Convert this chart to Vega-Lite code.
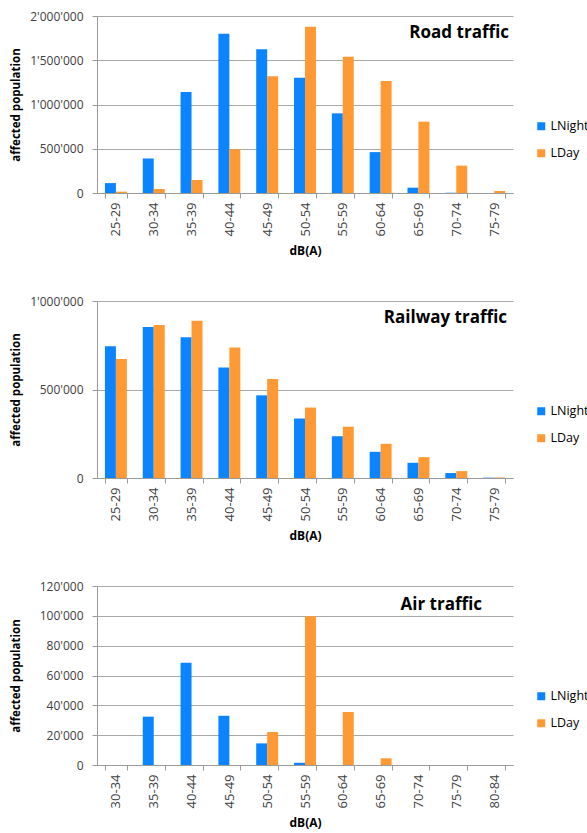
{
  "$schema": "https://vega.github.io/schema/vega-lite/v6.json",
  "padding": {"top": 10, "left": 10, "right": 0, "bottom": 6},
  "datasets": {
    "road": [
      {"band": "25-29", "series": "LNight", "value": 112000},
      {"band": "25-29", "series": "LDay", "value": 15000},
      {"band": "30-34", "series": "LNight", "value": 390000},
      {"band": "30-34", "series": "LDay", "value": 45000},
      {"band": "35-39", "series": "LNight", "value": 1142000},
      {"band": "35-39", "series": "LDay", "value": 147000},
      {"band": "40-44", "series": "LNight", "value": 1800000},
      {"band": "40-44", "series": "LDay", "value": 494000},
      {"band": "45-49", "series": "LNight", "value": 1624000},
      {"band": "45-49", "series": "LDay", "value": 1320000},
      {"band": "50-54", "series": "LNight", "value": 1303000},
      {"band": "50-54", "series": "LDay", "value": 1878000},
      {"band": "55-59", "series": "LNight", "value": 900000},
      {"band": "55-59", "series": "LDay", "value": 1540000},
      {"band": "60-64", "series": "LNight", "value": 462000},
      {"band": "60-64", "series": "LDay", "value": 1266000},
      {"band": "65-69", "series": "LNight", "value": 60000},
      {"band": "65-69", "series": "LDay", "value": 806000},
      {"band": "70-74", "series": "LNight", "value": 3000},
      {"band": "70-74", "series": "LDay", "value": 309000},
      {"band": "75-79", "series": "LNight", "value": 0},
      {"band": "75-79", "series": "LDay", "value": 23000}
    ],
    "rail": [
      {"band": "25-29", "series": "LNight", "value": 744000},
      {"band": "25-29", "series": "LDay", "value": 673000},
      {"band": "30-34", "series": "LNight", "value": 853000},
      {"band": "30-34", "series": "LDay", "value": 865000},
      {"band": "35-39", "series": "LNight", "value": 795000},
      {"band": "35-39", "series": "LDay", "value": 889000},
      {"band": "40-44", "series": "LNight", "value": 625000},
      {"band": "40-44", "series": "LDay", "value": 737000},
      {"band": "45-49", "series": "LNight", "value": 467000},
      {"band": "45-49", "series": "LDay", "value": 559000},
      {"band": "50-54", "series": "LNight", "value": 336000},
      {"band": "50-54", "series": "LDay", "value": 398000},
      {"band": "55-59", "series": "LNight", "value": 236000},
      {"band": "55-59", "series": "LDay", "value": 289000},
      {"band": "60-64", "series": "LNight", "value": 148000},
      {"band": "60-64", "series": "LDay", "value": 193000},
      {"band": "65-69", "series": "LNight", "value": 86000},
      {"band": "65-69", "series": "LDay", "value": 118000},
      {"band": "70-74", "series": "LNight", "value": 28000},
      {"band": "70-74", "series": "LDay", "value": 39000},
      {"band": "75-79", "series": "LNight", "value": 2000},
      {"band": "75-79", "series": "LDay", "value": 3000}
    ],
    "air": [
      {"band": "30-34", "series": "LNight", "value": 0},
      {"band": "30-34", "series": "LDay", "value": 0},
      {"band": "35-39", "series": "LNight", "value": 32400},
      {"band": "35-39", "series": "LDay", "value": 0},
      {"band": "40-44", "series": "LNight", "value": 68600},
      {"band": "40-44", "series": "LDay", "value": 0},
      {"band": "45-49", "series": "LNight", "value": 33000},
      {"band": "45-49", "series": "LDay", "value": 0},
      {"band": "50-54", "series": "LNight", "value": 14500},
      {"band": "50-54", "series": "LDay", "value": 22100},
      {"band": "55-59", "series": "LNight", "value": 1500},
      {"band": "55-59", "series": "LDay", "value": 99800},
      {"band": "60-64", "series": "LNight", "value": 0},
      {"band": "60-64", "series": "LDay", "value": 35500},
      {"band": "65-69", "series": "LNight", "value": 0},
      {"band": "65-69", "series": "LDay", "value": 4500},
      {"band": "70-74", "series": "LNight", "value": 0},
      {"band": "70-74", "series": "LDay", "value": 0},
      {"band": "75-79", "series": "LNight", "value": 0},
      {"band": "75-79", "series": "LDay", "value": 0},
      {"band": "80-84", "series": "LNight", "value": 0},
      {"band": "80-84", "series": "LDay", "value": 0}
    ]
  },
  "concat": [
    {
      "width": 416, "height": 177,
      "data": {"name": "road"},
      "title": {"text": "Road traffic", "anchor": "end", "frame": "group", "offset": -32, "dx": -4},
      "mark": {"type": "bar"},
      "encoding": {
        "x": {"field": "band", "type": "nominal", "sort": null, "title": "dB(A)", "scale": {"paddingInner": 0.42, "paddingOuter": 0.21}},
        "xOffset": {"field": "series", "type": "nominal", "sort": ["LNight", "LDay"], "scale": {"paddingInner": 0, "paddingOuter": 0}},
        "y": {"field": "value", "type": "quantitative", "title": "affected population", "scale": {"domain": [0, 2000000]}, "axis": {"values": [0, 500000, 1000000, 1500000, 2000000], "format": ",d", "minExtent": 70, "maxExtent": 70}},
        "color": {"field": "series", "type": "nominal", "scale": {"domain": ["LNight", "LDay"], "range": ["#0A84FF", "#FF9933"]}, "legend": {"orient": "none", "legendX": 438, "legendY": 104}}
      }
    },
    {
      "width": 416, "height": 177,
      "data": {"name": "rail"},
      "title": {"text": "Railway traffic", "anchor": "end", "frame": "group", "offset": -32, "dx": -6},
      "mark": {"type": "bar"},
      "encoding": {
        "x": {"field": "band", "type": "nominal", "sort": null, "title": "dB(A)", "scale": {"paddingInner": 0.42, "paddingOuter": 0.21}},
        "xOffset": {"field": "series", "type": "nominal", "sort": ["LNight", "LDay"], "scale": {"paddingInner": 0, "paddingOuter": 0}},
        "y": {"field": "value", "type": "quantitative", "title": "affected population", "scale": {"domain": [0, 1000000]}, "axis": {"values": [0, 500000, 1000000], "format": ",d", "minExtent": 70, "maxExtent": 70}},
        "color": {"field": "series", "type": "nominal", "scale": {"domain": ["LNight", "LDay"], "range": ["#0A84FF", "#FF9933"]}, "legend": {"orient": "none", "legendX": 438, "legendY": 104}}
      }
    },
    {
      "width": 416, "height": 179,
      "data": {"name": "air"},
      "title": {"text": "Air traffic", "anchor": "end", "frame": "group", "offset": -34, "dx": -31},
      "mark": {"type": "bar"},
      "encoding": {
        "x": {"field": "band", "type": "nominal", "sort": null, "title": "dB(A)", "scale": {"paddingInner": 0.42, "paddingOuter": 0.21}},
        "xOffset": {"field": "series", "type": "nominal", "sort": ["LNight", "LDay"], "scale": {"paddingInner": 0, "paddingOuter": 0}},
        "y": {"field": "value", "type": "quantitative", "title": "affected population", "scale": {"domain": [0, 120000]}, "axis": {"values": [0, 20000, 40000, 60000, 80000, 100000, 120000], "format": ",d", "minExtent": 70, "maxExtent": 70}},
        "color": {"field": "series", "type": "nominal", "scale": {"domain": ["LNight", "LDay"], "range": ["#0A84FF", "#FF9933"]}, "legend": {"orient": "none", "legendX": 438, "legendY": 104}}
      }
    }
  ],
  "columns": 1,
  "align": "none",
  "spacing": 38,
  "resolve": {"scale": {"color": "independent", "x": "independent", "y": "independent"}},
  "config": {
    "font": "Open Sans",
    "locale": {"number": {"decimal": ".", "thousands": "'", "grouping": [3], "currency": ["", ""]}},
    "view": {"stroke": null},
    "title": {"fontSize": 17, "fontWeight": "bold", "color": "#000000", "font": "Open Sans"},
    "axis": {"domainColor": "#9a9a9a", "tickColor": "#9a9a9a", "gridColor": "#a8a8a8", "labelColor": "#404040", "labelFontSize": 12, "titleFontSize": 11.5, "titleFontWeight": "bold", "titleColor": "#000000", "tickSize": 5},
    "axisY": {"labelPadding": 9, "titlePadding": 6, "domain": true},
    "axisX": {"labelAngle": -90, "labelPadding": 4, "titlePadding": 10, "tickBand": "extent", "grid": false, "labelFontSize": 13, "titleFontSize": 12},
    "legend": {"title": null, "symbolType": "square", "symbolSize": 64, "symbolStrokeWidth": 0, "labelFontSize": 12.5, "labelColor": "#000000", "labelOffset": 3, "rowPadding": 14, "padding": 0}
  }
}
